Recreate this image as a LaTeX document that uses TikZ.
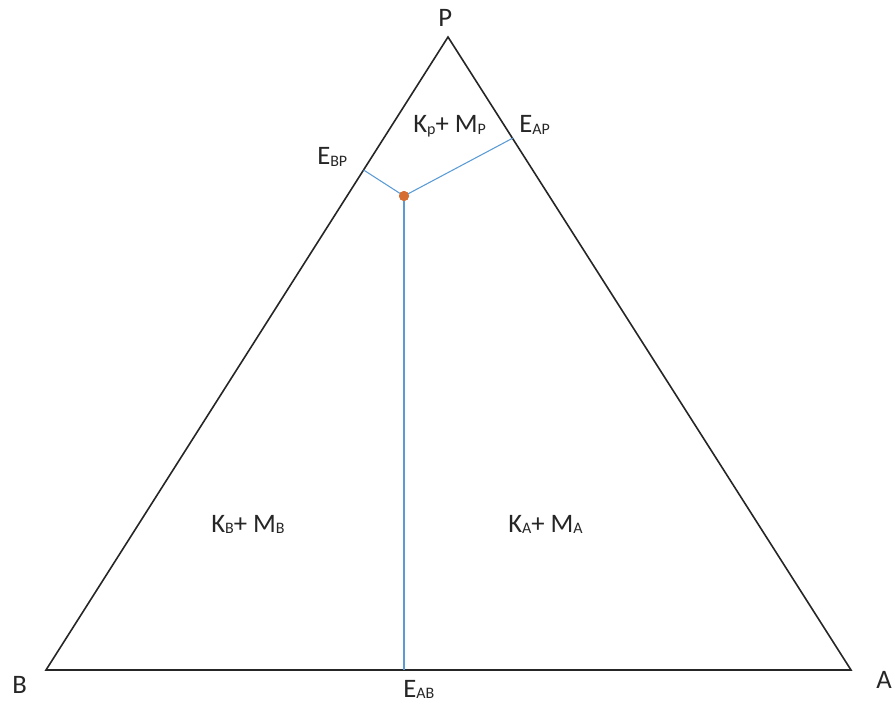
\documentclass[tikz,border=0pt]{standalone}
\usepackage{fontspec}
\setmainfont{Carlito}
\definecolor{lineblue}{RGB}{91,155,213}
\definecolor{dotorange}{RGB}{214,110,50}
\newcommand{\lo}[1]{\raisebox{-0.15ex}{\fontsize{12}{13}\selectfont #1}}
\begin{document}
\begin{tikzpicture}[x=0.75pt, y=-0.75pt,
  lbl/.style={font=\fontsize{20}{23}\selectfont, text=black!85, inner sep=0pt, anchor=base west},
  side/.style={line width=1.2pt, black!85},
  tie/.style={line width=0.8pt, lineblue},
  eut/.style={circle, fill=dotorange, inner sep=0pt, minimum size=7.5pt}]
  \useasboundingbox (0,0) rectangle (895,706);
  % vertices and eutectic points
  \coordinate (vB) at (46,670);
  \coordinate (vA) at (851,670);
  \coordinate (vP) at (448,37);
  \coordinate (eBP) at (363.6,170);
  \coordinate (eAP) at (513,138);
  \coordinate (eAB) at (404,670);
  \node[eut] (tern) at (404,196) {};
  % triangle
  \draw[side, line join=miter] (vB) -- (vA) -- (vP) -- cycle;
  % boundary lines
  \draw[tie] (eBP) -- (tern.center) -- (eAP);
  \draw[tie] (tern.center) -- (eAB);
  \node[eut] at (tern) {};
  % labels
  \node[lbl] (lP) at (438,27) {P};
  \node[lbl] (lB) at (12,693) {B};
  \node[lbl] (lA) at (876,688) {A};
  \node[lbl] (lEBP) at (317,165) {E\lo{BP}};
  \node[lbl] (lEAP) at (519,133) {E\lo{AP}};
  \node[lbl] (lEAB) at (403,697) {E\lo{AB}};
  \node[lbl] (fP) at (413,133) {K\lo{p}+ M\lo{P}};
  \node[lbl] (fB) at (211,532) {K\lo{B}+ M\lo{B}};
  \node[lbl] (fA) at (508,532) {K\lo{A}+ M\lo{A}};
\end{tikzpicture}
\end{document}
